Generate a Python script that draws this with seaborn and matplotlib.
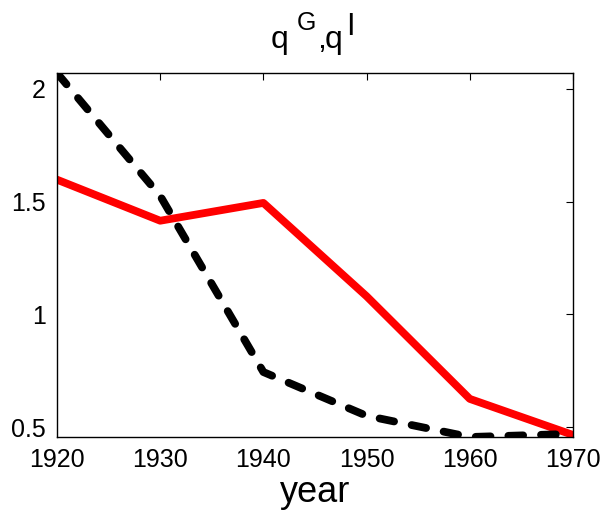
import numpy as np
import pandas as pd
import seaborn as sns
import matplotlib.pyplot as plt

years = [1920, 1930, 1940, 1950, 1960, 1970]
q_G = [1.597, 1.415, 1.494, 1.08, 0.625, 0.465]
q_I = [2.07, 1.525, 0.744, 0.55, 0.456, 0.47]

sns.set_style('white')
plt.rcParams['font.family'] = ['Liberation Sans', 'DejaVu Sans']
plt.rcParams['text.color'] = 'black'
plt.rcParams['axes.labelcolor'] = 'black'

df = pd.DataFrame({'year': years, 'qG': q_G, 'qI': q_I})

W, H = 603, 529
fig = plt.figure(figsize=(W / 100, H / 100), dpi=100)
ax = fig.add_axes([57 / W, 1 - 437 / H, 516 / W, 364 / H])

sns.lineplot(data=df, x='year', y='qG', ax=ax, color='red', linewidth=5.6)
sns.lineplot(data=df, x='year', y='qI', ax=ax, color='black', linewidth=5.6,
             linestyle=(0, (1.9, 2.3)), dash_capstyle='round')

ax.set_xlim(1920, 1970)
ax.set_ylim(0.456, 2.07)
ax.set_xticks(years)
ax.set_yticks([0.5, 1, 1.5, 2])
ax.set_yticklabels(['0.5', '1', '1.5', '2'])
ax.tick_params(direction='in', top=True, right=True, length=5, width=0.8,
               labelsize=18, colors='black', pad=8)
for s in ax.spines.values():
    s.set_color('black')
    s.set_linewidth(1)
ax.set_xlabel('year', fontsize=26, labelpad=2)
ax.set_ylabel('')

# title q^G,q^I built from pieces (MATLAB-like superscripts)
def px(x, y):
    return x / W, 1 - y / H

pieces = [('q', 271, 48, 23), ('G', 297, 30, 18), (',', 317, 48, 23),
          ('q', 325, 48, 23), ('I', 346, 35, 22)]
for s, x, y, fs in pieces:
    fig.text(*px(x, y), s, fontsize=fs, ha='left', va='baseline', color='black')

fig.savefig('out.png', dpi=100)
